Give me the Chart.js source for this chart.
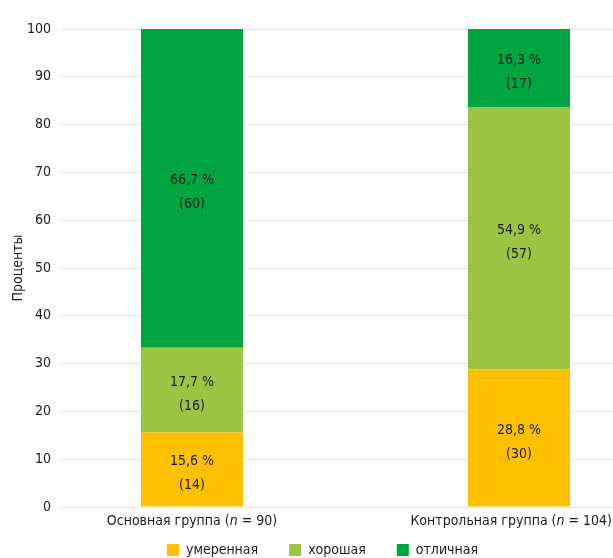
<!DOCTYPE html>
<html>
<head>
<meta charset="utf-8">
<script src="https://cdn.jsdelivr.net/npm/chart.js@4"></script>
<style>
  html, body { margin: 0; padding: 0; background: #ffffff; overflow: hidden; }
  #wrap { width: 613px; height: 558px; position: relative; }
</style>
</head>
<body>
<div id="wrap"><canvas id="c"></canvas></div>
<script>
// Groups and their sizes
const groups = ['Основная группа', 'Контрольная группа'];
const groupSizes = [90, 104];

// Series (grade of result)
const seriesNames = ['умеренная', 'хорошая', 'отличная'];

// Share of patients, %
const moderatePct = [15.6, 28.8];
const goodPct = [17.7, 54.9];
const excellentPct = [66.7, 16.3];

// Number of patients
const moderateN = [14, 30];
const goodN = [16, 57];
const excellentN = [60, 17];

const yTicks = [0, 10, 20, 30, 40, 50, 60, 70, 80, 90, 100];

const FONT = "'Liberation Sans Narrow', 'DejaVu Sans Condensed', 'Roboto Condensed', sans-serif";
const FS = 14;
const TEXT = '#1a1a1a';
const colors = ['#FFC000', '#9DC544', '#00A440'];

const pctSets = [moderatePct, goodPct, excellentPct];
const countSets = [moderateN, goodN, excellentN];

const fmtPct = v => v.toFixed(1).replace('.', ',') + ' %';

const datasets = seriesNames.map((name, s) => ({
  label: name,
  data: pctSets[s].map((v, i) => ({ x: i, y: v })),
  backgroundColor: colors[s],
  borderWidth: 0,
  barPercentage: 1,
  categoryPercentage: 0.312,
  counts: countSets[s]
}));

// Labels inside each bar segment: percent and count
const segmentLabels = {
  id: 'segmentLabels',
  afterDatasetsDraw(chart) {
    const ctx = chart.ctx;
    ctx.save();
    ctx.font = FS + 'px ' + FONT;
    ctx.fillStyle = TEXT;
    ctx.textAlign = 'center';
    ctx.textBaseline = 'middle';
    chart.data.datasets.forEach((ds, d) => {
      const meta = chart.getDatasetMeta(d);
      meta.data.forEach((el, i) => {
        const cy = (el.y + el.base) / 2 + 4;
        ctx.fillText(fmtPct(ds.data[i].y), el.x, cy - 12);
        ctx.fillText('(' + ds.counts[i] + ')', el.x, cy + 12);
      });
    });
    ctx.restore();
  }
};

// Group names under the bars, with italic n; kept inside the canvas
const groupLabels = {
  id: 'groupLabels',
  afterDraw(chart) {
    const ctx = chart.ctx;
    const xs = chart.scales.x;
    const y = chart.chartArea.bottom + 14;
    const normal = FS + 'px ' + FONT;
    const italic = 'italic ' + FS + 'px ' + FONT;
    ctx.save();
    ctx.fillStyle = TEXT;
    ctx.textBaseline = 'middle';
    ctx.textAlign = 'left';
    groups.forEach((g, i) => {
      const parts = [
        [g + ' (', normal],
        ['n', italic],
        [' = ' + groupSizes[i] + ')', normal]
      ];
      let total = 0;
      parts.forEach(p => { ctx.font = p[1]; total += ctx.measureText(p[0]).width; });
      let x = Math.min(xs.getPixelForValue(i) - total / 2, chart.width - total - 1);
      parts.forEach(p => {
        ctx.font = p[1];
        ctx.fillText(p[0], x, y);
        x += ctx.measureText(p[0]).width;
      });
    });
    ctx.restore();
  }
};

// Legend row at the bottom: square swatch + series name
const legendRow = {
  id: 'legendRow',
  afterDraw(chart) {
    const ctx = chart.ctx;
    const box = 12, gapText = 7, gapItem = 31;
    ctx.save();
    ctx.font = FS + 'px ' + FONT;
    ctx.textBaseline = 'middle';
    ctx.textAlign = 'left';
    const items = chart.data.datasets.map(ds => ({
      text: ds.label, color: ds.backgroundColor, w: ctx.measureText(ds.label).width
    }));
    const total = items.reduce((a, it) => a + box + gapText + it.w, 0) + gapItem * (items.length - 1);
    const cy = chart.height - 8;
    let x = chart.width / 2 + 16 - total / 2;
    items.forEach(it => {
      ctx.fillStyle = it.color;
      ctx.fillRect(x, cy - box / 2, box, box);
      x += box + gapText;
      ctx.fillStyle = TEXT;
      ctx.fillText(it.text, x, cy);
      x += it.w + gapItem;
    });
    ctx.restore();
  }
};

new Chart(document.getElementById('c'), {
  type: 'bar',
  data: { datasets },
  plugins: [segmentLabels, groupLabels, legendRow],
  options: {
    responsive: true,
    maintainAspectRatio: false,
    animation: false,
    layout: { padding: { top: 29, right: 0, left: 0, bottom: 23 } },
    scales: {
      x: {
        type: 'linear',
        stacked: true,
        offset: false,
        min: -0.4006,
        max: 1.2875,
        afterBuildTicks(s) { s.ticks = groups.map((g, i) => ({ value: i })); },
        grid: { display: false },
        border: { display: false },
        ticks: { display: false },
        afterFit(s) { s.height = 28; }
      },
      y: {
        stacked: true,
        min: 0,
        max: 100,
        afterBuildTicks(s) { s.ticks = yTicks.map(v => ({ value: v })); },
        ticks: { color: TEXT, font: { family: FONT, size: FS }, padding: 10 },
        grid: { color: '#e4e4e4', drawTicks: false, lineWidth: 1 },
        border: { display: false },
        title: {
          display: true,
          text: 'Проценты',
          color: TEXT,
          font: { family: FONT, size: FS },
          padding: { top: 10, bottom: 4 }
        },
        afterFit(s) { s.width = 61; }
      }
    },
    plugins: {
      legend: { display: false },
      tooltip: { enabled: false }
    }
  }
});
</script>
</body>
</html>
